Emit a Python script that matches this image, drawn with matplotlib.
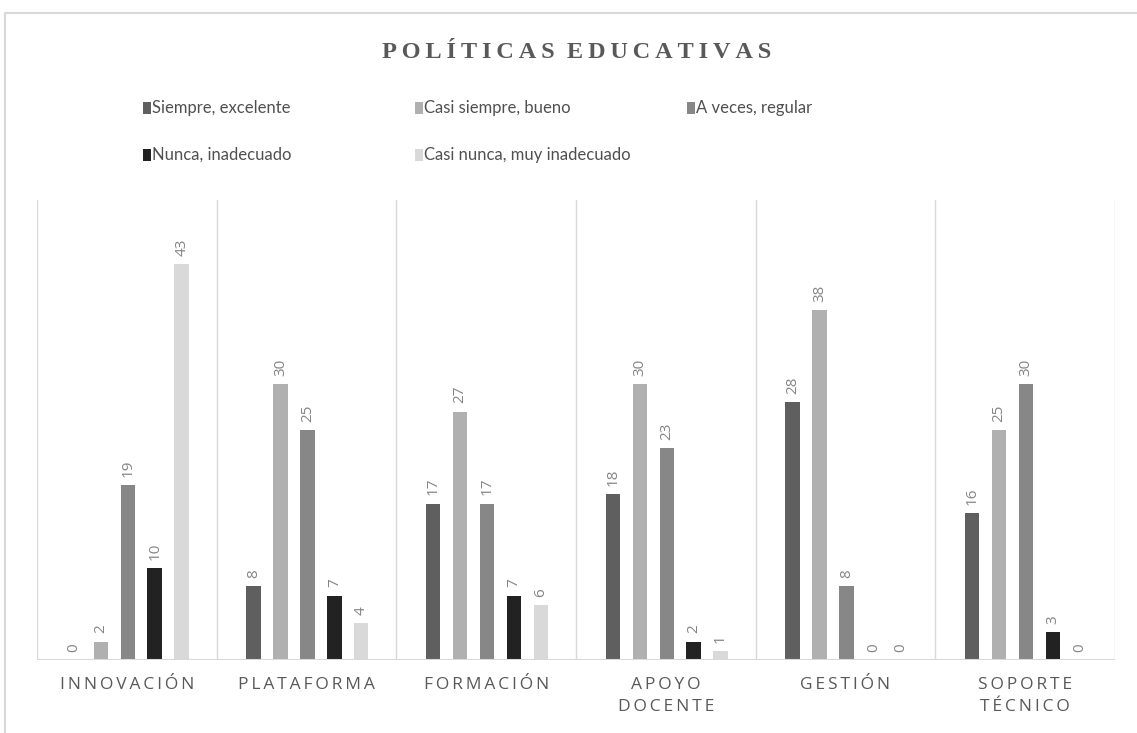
import numpy as np
import matplotlib
matplotlib.use("Agg")
import matplotlib.pyplot as plt
from matplotlib.patches import Rectangle

categories = ["INNOVACIÓN", "PLATAFORMA", "FORMACIÓN", "APOYO\nDOCENTE", "GESTIÓN", "SOPORTE\nTÉCNICO"]
series_names = ["Siempre, excelente", "Casi siempre, bueno", "A veces, regular",
                "Nunca, inadecuado", "Casi nunca, muy inadecuado"]
siempre = [0, 8, 17, 18, 28, 16]
casi_siempre = [2, 30, 27, 30, 38, 25]
a_veces = [19, 25, 17, 23, 8, 30]
nunca = [10, 7, 7, 2, 0, 3]
casi_nunca = [43, 4, 6, 1, 0, 0]
series_values = [siempre, casi_siempre, a_veces, nunca, casi_nunca]
colors = ["#5f5f5f", "#b0b0b0", "#878787", "#222222", "#d9d9d9"]

W, H = 1137, 733
fig = plt.figure(figsize=(W / 100, H / 100), dpi=100)
fig.patch.set_facecolor("white")

# outer chart border (only top and left visible in the reference)
fig.add_artist(Rectangle((5 / W, -0.1), 1.2, (H - 13) / H + 0.1, transform=fig.transFigure,
                         facecolor="none", edgecolor="#d9d9d9", lw=1.5))

ax = fig.add_axes([37 / W, 1 - 660 / H, 1078 / W, 460 / H])
x = np.arange(len(categories))
step = 0.15
width = 0.08
for i, (vals, col) in enumerate(zip(series_values, colors)):
    pos = x + (i - 2) * step + 0.005
    ax.bar(pos, vals, width=width, color=col, zorder=3)
    for px, v in zip(pos, vals):
        ax.text(px, v + 0.9, str(v), rotation=90, ha="center", va="bottom",
                fontsize=11, color="#858585", family=["Open Sans", "DejaVu Sans"])

ax.set_xlim(-0.5, len(categories) - 0.5)
ax.set_ylim(0, 50)
ax.set_yticks([])
ax.set_xticks([])
for b in np.arange(-0.5, len(categories) + 0.5, 1):
    ax.axvline(b, color="#d9d9d9", lw=1, zorder=1)
ax.axhline(0, color="#d9d9d9", lw=1.5, zorder=4)
for s in ax.spines.values():
    s.set_visible(False)

spaced = ["\n".join("\u2009".join(line) for line in c.split("\n")) for c in categories]
for xi, lab in zip(x, spaced):
    ax.text(xi, -1.9, lab, ha="center", va="top", fontsize=12.5, color="#595959",
            linespacing=1.45, family=["Open Sans", "DejaVu Sans"])

title = "POLÍTICAS EDUCATIVAS"
fig.text(577 / W, 1 - 52 / H, "\u2009".join(title).replace("\u2009 \u2009", "  "),
         ha="center", va="center", fontsize=17.5, fontweight="bold", color="#595959",
         family=["Liberation Serif", "DejaVu Serif"])

# legend laid out in Excel-style fixed columns
for i, (name, col) in enumerate(zip(series_names, colors)):
    row, c = divmod(i, 3)
    lx = 143 + c * 272
    ly = 108 + row * 47
    fig.add_artist(Rectangle((lx / W, 1 - (ly + 6) / H), 8 / W, 12 / H,
                             transform=fig.transFigure, facecolor=col, edgecolor="none"))
    fig.text((lx + 9) / W, 1 - ly / H, name, ha="left", va="center", fontsize=12,
             color="#505050", family=["Lato", "DejaVu Sans"])

fig.savefig("out.png", dpi=100)
